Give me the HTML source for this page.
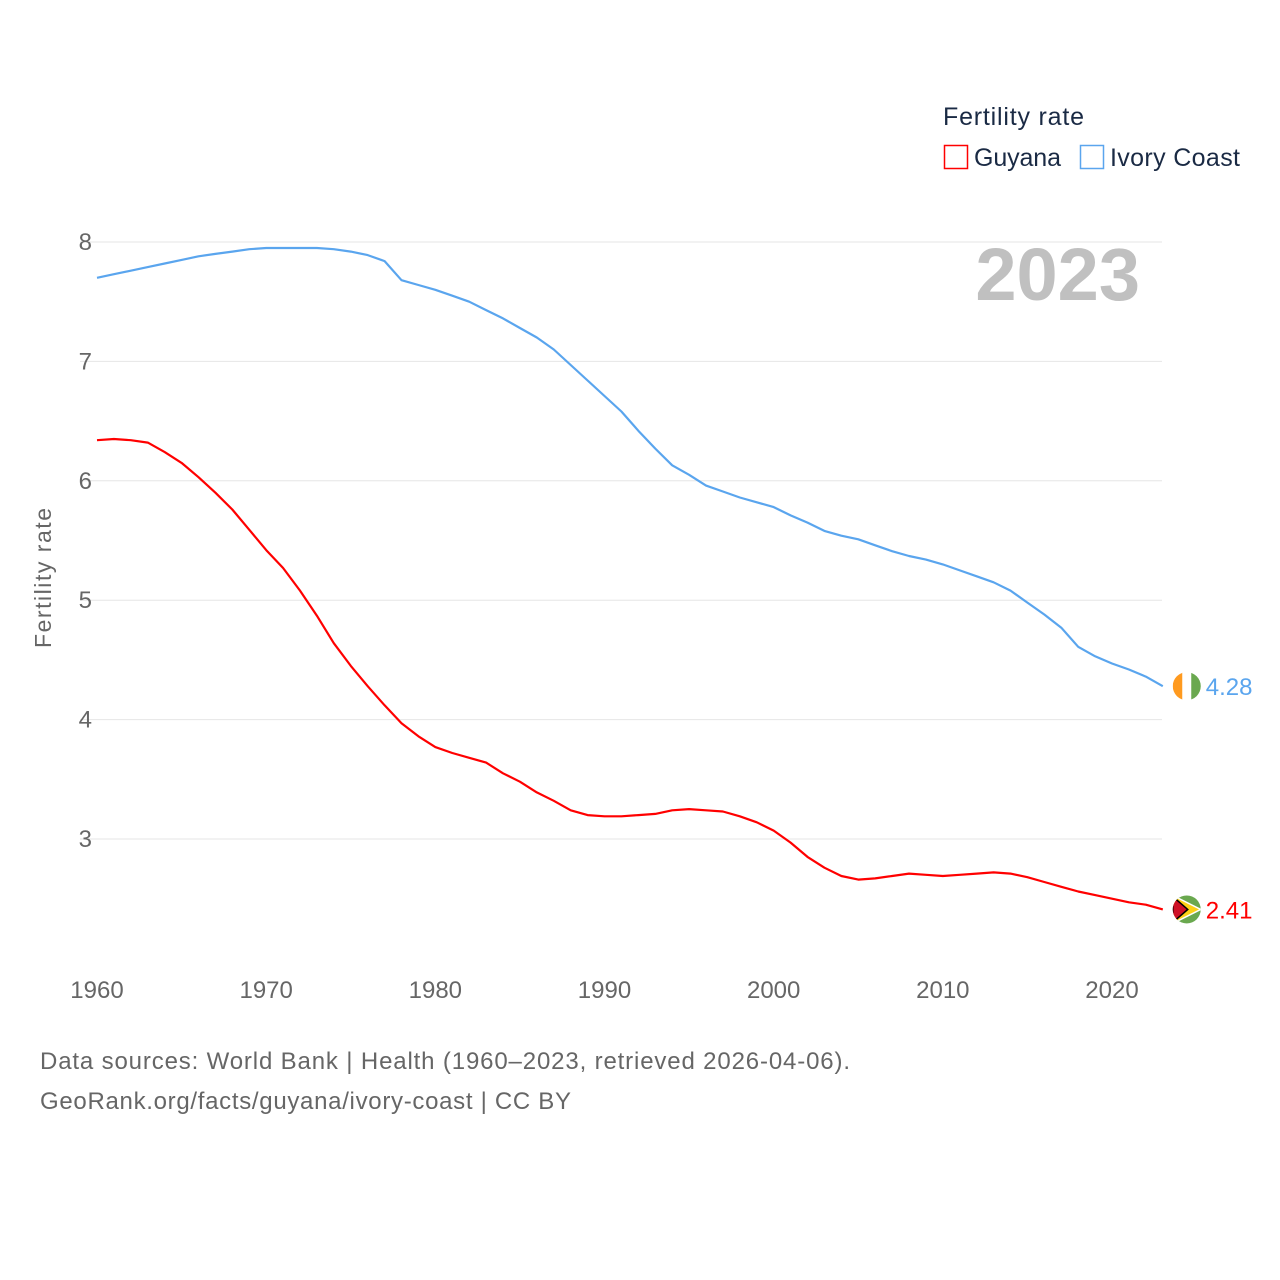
<!DOCTYPE html>
<html><head><meta charset="utf-8">
<style>
html,body{margin:0;padding:0;background:#fff;}
svg{display:block;font-family:"Liberation Sans",sans-serif;}
</style></head>
<body>
<svg id="chart" width="1280" height="1280" viewBox="0 0 1280 1280">
  <text x="943" y="125" font-size="25" fill="#1a2a44" textLength="141">Fertility rate</text>
  <g>
    <rect x="944.5" y="145.5" width="23" height="23" fill="none" stroke="#ff0000" stroke-width="1.5"/>
    <text x="974" y="166" font-size="25" fill="#1a2a44" textLength="87">Guyana</text>
  </g>
  <g>
    <rect x="1080.5" y="145.5" width="23" height="23" fill="none" stroke="#5aa5ee" stroke-width="1.5"/>
    <text x="1110" y="166" font-size="25" fill="#1a2a44" textLength="130">Ivory Coast</text>
  </g>
  <g id="grid"></g>
  <g id="yticks"></g>
  <g id="xticks"></g>
  <text x="1140" y="300" font-size="74" font-weight="bold" fill="#c0c0c0" text-anchor="end">2023</text>
  <text transform="translate(51,578) rotate(-90)" font-size="23" fill="#666" text-anchor="middle" textLength="140">Fertility rate</text>
  <g id="series"></g>
  <text x="40" y="1069" font-size="24" fill="#666" textLength="810">Data sources: World Bank | Health (1960–2023, retrieved 2026-04-06).</text>
  <text x="40" y="1109" font-size="24" fill="#666" textLength="531">GeoRank.org/facts/guyana/ivory-coast | CC BY</text>
</svg>
<script>
const years = [];
for (let y = 1960; y <= 2023; y++) years.push(y);
const ivoryCoast = [7.70,7.73,7.76,7.79,7.82,7.85,7.88,7.90,7.92,7.94,7.95,7.95,7.95,7.95,7.94,7.92,7.89,7.84,7.68,7.64,7.60,7.55,7.50,7.43,7.36,7.28,7.20,7.10,6.97,6.84,6.71,6.58,6.42,6.27,6.13,6.05,5.96,5.91,5.86,5.82,5.78,5.71,5.65,5.58,5.54,5.51,5.46,5.41,5.37,5.34,5.30,5.25,5.20,5.15,5.08,4.98,4.88,4.77,4.61,4.53,4.47,4.42,4.36,4.28];
const guyana = [6.34,6.35,6.34,6.32,6.24,6.15,6.03,5.90,5.76,5.59,5.42,5.27,5.08,4.87,4.64,4.45,4.28,4.12,3.97,3.86,3.77,3.72,3.68,3.64,3.55,3.48,3.39,3.32,3.24,3.20,3.19,3.19,3.20,3.21,3.24,3.25,3.24,3.23,3.19,3.14,3.07,2.97,2.85,2.76,2.69,2.66,2.67,2.69,2.71,2.70,2.69,2.70,2.71,2.72,2.71,2.68,2.64,2.60,2.56,2.53,2.50,2.47,2.45,2.41];
const yTicks = [3,4,5,6,7,8];
const xTicks = [1960,1970,1980,1990,2000,2010,2020];

const NS = "http://www.w3.org/2000/svg";
const xS = yr => 97 + (yr - 1960) * (1112 - 97) / 60;
const yS = v => 839 - (v - 3) * (839 - 242) / 5;
function mk(tag, attrs, parent) {
  const e = document.createElementNS(NS, tag);
  for (const k in attrs) e.setAttribute(k, attrs[k]);
  parent.appendChild(e);
  return e;
}
const grid = document.getElementById('grid');
const yt = document.getElementById('yticks');
const xt = document.getElementById('xticks');
yTicks.forEach(v => {
  const l = mk('line', {x1: 80, x2: 1162, y1: yS(v), y2: yS(v), stroke: '#e6e6e6', 'stroke-width': 1}, grid);
  
  
  const t = mk('text', {x: 92, y: yS(v) + 8, 'font-size': 24, fill: '#666', 'text-anchor': 'end'}, yt);
  t.textContent = v;
  
  
});
xTicks.forEach(v => {
  const t = mk('text', {x: xS(v), y: 998, 'font-size': 24, fill: '#666', 'text-anchor': 'middle'}, xt);
  t.textContent = v;
  
  
});
const sg = document.getElementById('series');
function drawLine(vals, color, name) {
  const d = vals.map((v, i) => (i ? 'L' : 'M') + xS(years[i]).toFixed(1) + ',' + yS(v).toFixed(1)).join('');
  const p = mk('path', {d: d, fill: 'none', stroke: color, 'stroke-width': 2.2, 'stroke-linejoin': 'round'}, sg);
  
  
  const last = vals[vals.length - 1];
  const lx = xS(years[years.length - 1]);
  const ly = yS(last);
  const t = mk('text', {x: lx + 43, y: ly + 9, 'font-size': 24, fill: color}, sg);
  t.textContent = last.toFixed(2);
  
  
  return [lx + 24, ly];
}
const [icx, icy] = drawLine(ivoryCoast, '#5aa5ee', 'ivory-coast');
const [gx, gy] = drawLine(guyana, '#ff0000', 'guyana');

// Ivory Coast flag
const fi = mk('g', {}, sg);


const ci = mk('clipPath', {id: 'cI'}, fi);
mk('circle', {cx: icx, cy: icy, r: 14}, ci);
const gi = mk('g', {'clip-path': 'url(#cI)'}, fi);
mk('rect', {x: icx - 14, y: icy - 14, width: 10, height: 28, fill: '#ff9a1f'}, gi);
mk('rect', {x: icx - 4.5, y: icy - 14, width: 9, height: 28, fill: '#ffffff'}, gi);
mk('rect', {x: icx + 4.5, y: icy - 14, width: 10, height: 28, fill: '#6aa84f'}, gi);

// Guyana flag
const fg = mk('g', {}, sg);


const cp = mk('clipPath', {id: 'cG'}, fg);
mk('circle', {cx: gx, cy: gy, r: 14}, cp);
const gg = mk('g', {'clip-path': 'url(#cG)'}, fg);
mk('rect', {x: gx - 14, y: gy - 14, width: 28, height: 28, fill: '#6aa84f'}, gg);
mk('polygon', {points: `${gx-14},${gy-14} ${gx+14},${gy} ${gx-14},${gy+14}`, fill: '#fcd116', stroke: '#fff', 'stroke-width': 1.5}, gg);
mk('polygon', {points: `${gx-14},${gy-13} ${gx+1},${gy} ${gx-14},${gy+13}`, fill: '#ce1126', stroke: '#000', 'stroke-width': 1.5}, gg);
</script>
</body></html>
